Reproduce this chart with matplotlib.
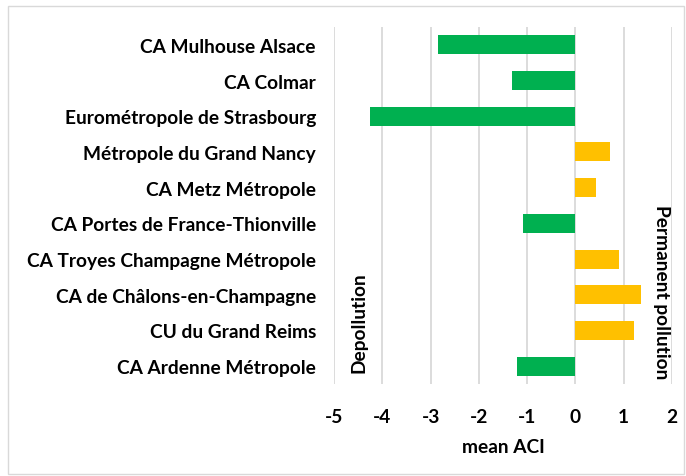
import matplotlib
matplotlib.use("Agg")
import matplotlib.pyplot as plt
from matplotlib.patches import Rectangle

# %%
territories = [
    "CA Mulhouse Alsace",
    "CA Colmar",
    "Eurométropole de Strasbourg",
    "Métropole du Grand Nancy",
    "CA Metz Métropole",
    "CA Portes de France-Thionville",
    "CA Troyes Champagne Métropole",
    "CA de Châlons-en-Champagne",
    "CU du Grand Reims",
    "CA Ardenne Métropole",
]
mean_aci = [-2.85, -1.31, -4.25, 0.71, 0.42, -1.09, 0.90, 1.36, 1.21, -1.21]
x_ticks = [-5, -4, -3, -2, -1, 0, 1, 2]

GREEN = "#00b050"
YELLOW = "#ffc000"

# %%
plt.rcParams["font.family"] = ["Lato", "DejaVu Sans"]
plt.rcParams["font.weight"] = "bold"
FS = 13.8

fig = plt.figure(figsize=(6.86, 4.77), dpi=100)
ax = fig.add_axes([334 / 686, 1 - 385 / 477, 338 / 686, 357 / 477])

colors = [GREEN if v < 0 else YELLOW for v in mean_aci]
ax.barh(range(len(territories)), mean_aci, height=0.53, color=colors, zorder=3)

ax.set_xlim(-5, 2)
ax.set_ylim(len(territories) - 0.5, -0.5)
ax.set_yticks(range(len(territories)))
ax.set_yticklabels(territories, fontsize=FS, fontweight="bold")
ax.set_xticks(x_ticks)
ax.set_xticklabels([str(t) for t in x_ticks], fontsize=FS, fontweight="bold")
ax.tick_params(length=0)
ax.tick_params(axis="y", pad=13)
ax.tick_params(axis="x", pad=17)
ax.set_xlabel("mean ACI", fontsize=FS, fontweight="bold", labelpad=10)
ax.grid(axis="x", color="#d9d9d9", linewidth=1.3, zorder=0)
for s in ax.spines.values():
    s.set_visible(False)

ax.text(-4.48, 9.16, "Depollution", rotation=90, ha="center", va="bottom",
        fontsize=FS, fontweight="bold")
ax.text(1.79, 4.46, "Permanent pollution", rotation=-90, ha="center", va="top",
        fontsize=FS, fontweight="bold")

# outer chart border
fig.patches.append(Rectangle((8 / 686, 2 / 477), 676 / 686, 468 / 477,
                             transform=fig.transFigure, fill=False,
                             edgecolor="#d9d9d9", linewidth=1))

fig.savefig("out.png", dpi=100)
